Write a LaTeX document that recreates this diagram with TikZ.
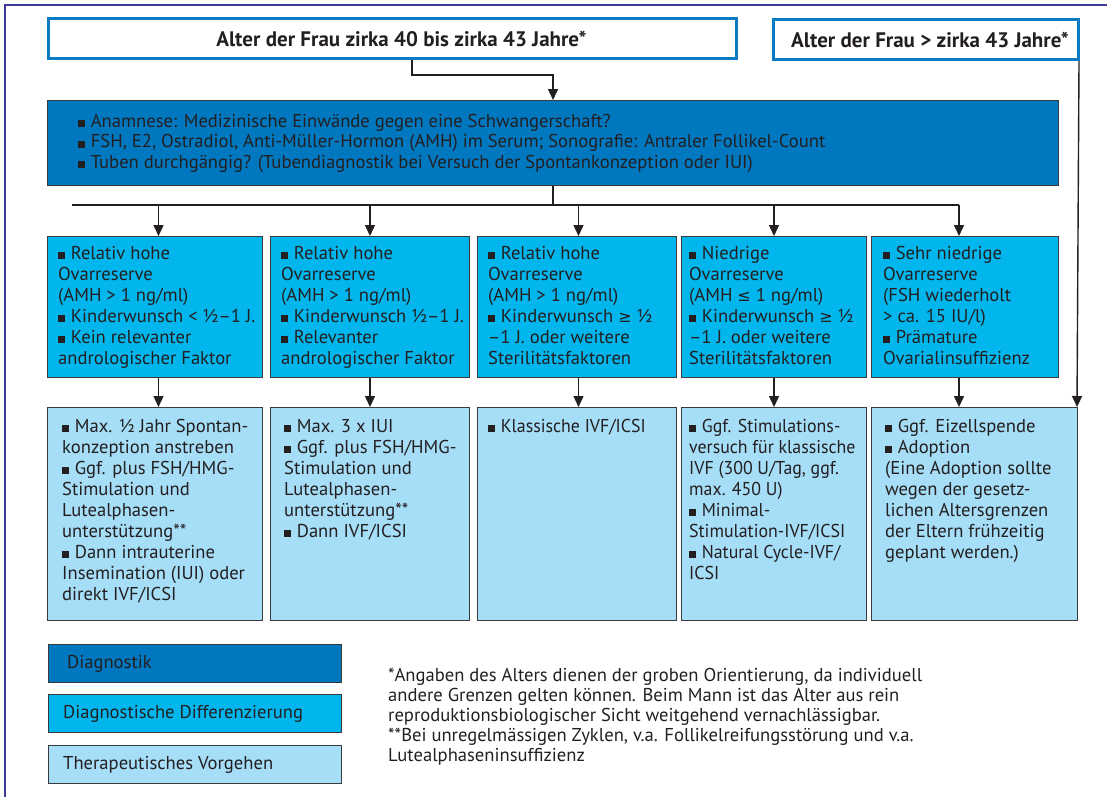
\documentclass[tikz,border=0pt]{standalone}
\usepackage{fontspec}
\setmainfont{PT Sans}
\newfontfamily\condfont[FakeStretch=0.96]{PT Sans}
\newfontfamily\symfont{DejaVu Sans}
\usetikzlibrary{arrows.meta,calc}
\definecolor{framec}{HTML}{3C3C98}
\definecolor{topc}{HTML}{0A7DC2}
\definecolor{diagc}{HTML}{0078C0}
\definecolor{midc}{HTML}{00B6EC}
\definecolor{botc}{HTML}{A6DDF7}
\definecolor{edgec}{HTML}{3A3A3A}
\definecolor{textc}{HTML}{231F20}
\newcommand\bul{\rule{0.38em}{0.38em}\hspace{0.3em}}
\newcommand\gex{{\symfont\fontsize{16}{21}\selectfont ≥}}
\newcommand\lex{{\symfont\fontsize{16}{21}\selectfont ≤}}
\newcommand\fsn{\fontsize{18.6}{21}\selectfont}
\tikzset{
  frameline/.style={draw=framec, line width=2.5pt},
  topbox/.style={draw=topc, line width=3pt, fill=white, minimum height=40pt, anchor=north west, inner sep=0, text=textc, font=\bfseries\fontsize{21}{24}\selectfont},
  bx/.style={draw=edgec, line width=1pt, anchor=north west, inner sep=0},
  diagbox/.style={bx, fill=diagc},
  midbox/.style={bx, fill=midc, minimum height=141pt},
  botbox/.style={bx, fill=botc, minimum height=213pt},
  txt/.style={anchor=north west, align=left, inner sep=0, text=textc, font=\fsn},
  ctxt/.style={txt, font=\condfont\fsn},
  legtxt/.style={anchor=west, inner sep=0, text=textc, font=\fontsize{18.6}{21}\selectfont},
  arr/.style={draw=textc, line width=1.4pt, -{Triangle[width=10pt,length=11pt]}},
  ln/.style={draw=textc, line width=1.4pt},
}
\begin{document}
\begin{tikzpicture}[x=1pt,y=-1pt]
\useasboundingbox (0,0) rectangle (1107,796);
\draw[frameline] (5,797) -- (5,5) -- (1108,5);

% top boxes
\node[topbox, minimum width=688pt] (t1) at (47,17) {\hspace{18pt}Alter der Frau zirka 40 bis zirka 43 Jahre*};
\node[topbox, minimum width=305pt] (t2) at (772,18) {\hspace{8pt}Alter der Frau > zirka 43 Jahre*};

% diagnostics
\node[diagbox, minimum width=1011pt, minimum height=85pt] (d) at (47,100) {};
\node[txt, font=\fontsize{18.6}{20.5}\selectfont] (dt) at (78,114) {\bul Anamnese: Medizinische Einwände gegen eine Schwangerschaft?\\
\bul FSH, E2, Ostradiol, Anti-Müller-Hormon (AMH) im Serum; Sonografie: Antraler Follikel-Count\\
\bul Tuben durchgängig? (Tubendiagnostik bei Versuch der Spontankonzeption oder IUI)};

% middle boxes
\node[midbox, minimum width=215pt] (m1) at (47,236) {};
\node[midbox, minimum width=199pt] (m2) at (270,236) {};
\node[midbox, minimum width=199pt] (m3) at (477,236) {};
\node[midbox, minimum width=185pt] (m4) at (681,236) {};
\node[midbox, minimum width=187pt] (m5) at (871,236) {};

\node[txt] (m1t) at (58,246) {\bul Relativ hohe\\Ovarreserve\\(AMH > 1 ng/ml)\\\bul Kinderwunsch < ½–1 J.\\\bul Kein relevanter\\andrologischer Faktor};
\node[txt] (m2t) at (281,246) {\bul Relativ hohe\\Ovarreserve\\(AMH > 1 ng/ml)\\\bul Kinderwunsch ½–1 J.\\\bul Relevanter\\andrologischer Faktor};
\node[txt] (m3t) at (488,246) {\bul Relativ hohe\\Ovarreserve\\(AMH > 1 ng/ml)\\\bul Kinderwunsch \gex{} ½\\–1 J. oder weitere\\Sterilitätsfaktoren};
\node[txt] (m4t) at (689,246) {\bul Niedrige\\Ovarreserve\\(AMH \lex{} 1 ng/ml)\\\bul Kinderwunsch \gex{} ½\\–1 J. oder weitere\\Sterilitätsfaktoren};
\node[txt] (m5t) at (883,246) {\bul Sehr niedrige\\Ovarreserve\\(FSH wiederholt\\> ca. 15 IU/l)\\\bul Prämature\\Ovarialinsuffizienz};

% bottom boxes
\node[botbox, minimum width=215pt] (b1) at (47,407) {};
\node[botbox, minimum width=199pt] (b2) at (270,407) {};
\node[botbox, minimum width=199pt] (b3) at (477,407) {};
\node[botbox, minimum width=185pt] (b4) at (681,407) {};
\node[botbox, minimum width=206pt] (b5) at (871,407) {};

\node[txt] (b1t) at (62,419) {\bul Max. ½ Jahr Spontan-\\konzeption anstreben\\\bul Ggf. plus FSH/HMG-\\Stimulation und\\Lutealphasen-\\unterstützung**\\\bul Dann intrauterine\\Insemination (IUI) oder\\direkt IVF/ICSI};
\node[txt] (b2t) at (284,419) {\bul Max. 3 x IUI\\\bul Ggf. plus FSH/HMG-\\Stimulation und\\Lutealphasen-\\unterstützung**\\\bul Dann IVF/ICSI};
\node[ctxt] (b3t) at (488,419) {\bul Klassische IVF/ICSI};
\node[ctxt] (b4t) at (689,419) {\bul Ggf. Stimulations-\\versuch für klassische\\IVF (300 U/Tag, ggf.\\max. 450 U)\\\bul Minimal-\\Stimulation-IVF/ICSI\\\bul Natural Cycle-IVF/\\ICSI};
\node[txt] (b5t) at (885,419) {\bul Ggf. Eizellspende\\\bul Adoption\\(Eine Adoption sollte\\wegen der gesetz-\\lichen Altersgrenzen\\der Eltern frühzeitig\\geplant werden.)};

% connectors
\draw[arr] ($(t1.south west)+(365,0)$) |- ($(d.north)+(0,-25)$) -- (d.north);
\draw[arr] ($(t2.south east)+(-1,0)$) -- ($(b5.north east)+(-1,0)$);
\coordinate (busL) at (72,205);
\draw[ln] (d.south) -- (d.south |- busL);
\draw[ln] (busL) -- ($(busL -| m5.north)+(-6,0)$);
\foreach \i/\dx in {1/3.5,2/0,3/1.5,4/0,5/-6}{
  \draw[arr] ($(busL -| m\i.north)+(\dx,0)$) -- ($(m\i.north)+(\dx,0)$);
  \draw[arr] ($(m\i.south)+(\dx,0)$) -- ($(m\i.south |- b\i.north)+(\dx,0)$);
}

% legend
\node[bx, fill=diagc, minimum width=293pt, minimum height=38pt] (l1) at (48,644) {};
\node[bx, fill=midc, minimum width=293pt, minimum height=38pt] (l2) at (48,694) {};
\node[bx, fill=botc, minimum width=293pt, minimum height=38pt] (l3) at (48,745) {};
\node[legtxt] at ($(l1.west)+(19,0)$) {Diagnostik};
\node[legtxt] at ($(l2.west)+(15,0)$) {Diagnostische Differenzierung};
\node[legtxt] at ($(l3.west)+(15,0)$) {Therapeutisches Vorgehen};

% footnote
\node[txt, font=\fontsize{18.6}{20}\selectfont] (fn) at (388,668) {*Angaben des Alters dienen der groben Orientierung, da individuell\\
andere Grenzen gelten können. Beim Mann ist das Alter aus rein\\
reproduktionsbiologischer Sicht weitgehend vernachlässigbar.\\
**Bei unregelmässigen Zyklen, v.a. Follikelreifungsstörung und v.a.\\
Lutealphaseninsuffizienz};
\end{tikzpicture}
\end{document}
